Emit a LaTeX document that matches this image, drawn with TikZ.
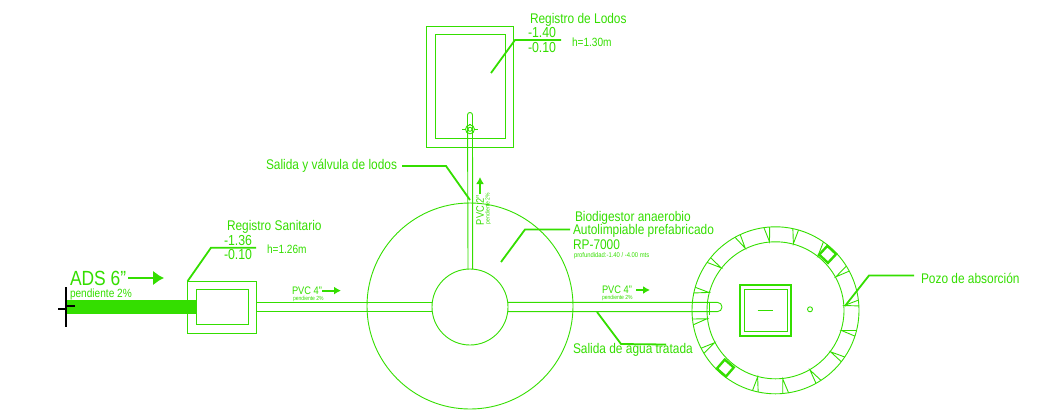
\documentclass[tikz,border=0pt]{standalone}
\usepackage{fontspec}
\setmainfont[FakeStretch=0.85]{Liberation Sans}
\usetikzlibrary{arrows.meta}
\definecolor{verde}{RGB}{52,222,0}
\begin{document}
\begin{tikzpicture}[x=1pt, y=-1pt, line width=0.9pt, color=verde,
	caja/.style={rectangle, draw, inner sep=0pt, outer sep=0pt},
	aro/.style={circle, draw, inner sep=0pt, outer sep=0pt},
	rotulo/.style={anchor=west, inner sep=0pt, outer sep=0pt, font=\fontsize{14}{14}\selectfont},
	medio/.style={anchor=west, inner sep=0pt, outer sep=0pt, font=\fontsize{11.9}{11.9}\selectfont},
	cota/.style={anchor=west, inner sep=0pt, outer sep=0pt, font=\fontsize{14.5}{14.5}\selectfont},
	chico/.style={anchor=west, inner sep=0pt, outer sep=0pt, font=\fontsize{5.9}{5.9}\selectfont},
	guia/.style={line width=1.8pt},
	flecha/.style={-{Latex[length=7pt,width=8pt]}, line width=1.8pt},
	tubo/.style={rounded corners=2.4pt}]
	\useasboundingbox (0,0) rectangle (1038,416);
	% tuberias
	\node[aro, minimum size=76pt] (tanque) at (470,307) {};
	\node[caja, minimum width=69.4pt, minimum height=52pt] (sanitario) at (222,307) {};
	\node[caja, minimum width=52pt, minimum height=35pt] (sanitarioint) at (222,307) {};
	\node[caja, minimum width=86.8pt, minimum height=121pt] (lodos) at (470,86.5) {};
	\node[caja, minimum width=70pt, minimum height=103.5pt] (lodosint) at (470,86.3) {};
	\coordinate (ads) at (67,307);
	\coordinate (tapon) at (722,302.4);
	\coordinate (tapon2) at (722,311.6);
	\coordinate (tope) at (467.5,112.5);
	\coordinate (tope2) at (472.5,112.5);
	\coordinate (valvula) at (470,129.3);
	\draw[tubo] (tanque.93.8) -- (tope) -- (tope2) -- (tanque.86.2);
	\draw (sanitario.east |- tanque.173) -- (tanque.173);
	\draw (sanitario.east |- tanque.187) -- (tanque.187);
	\draw[tubo, rounded corners=4.5pt] (tanque.7) -- (tapon) -- (tapon2) -- (tanque.-7);
	\draw[line width=14pt] (ads) -- (sanitarioint.west);
	\node[aro, minimum size=9pt] (valv) at (valvula) {};
	\node[aro, minimum size=4pt] (valvint) at (valvula) {};
	\draw[line width=1.2pt] (462,129.3) -- (valv.west) (valv.east) -- (478,129.3) (470,124) -- (valv.north);
	\node[aro, minimum size=206pt] (digestor) at (470,306) {};
	\draw[black, line width=1.1pt] (66,287) -- (66,327);
	\draw[black, line width=2.6pt] (58,309) -- (66,309) (66,306) -- (75,306);
	% pozo
	\begin{scope}[shift={(775.5,310.3)}, y=1pt]
		\node[aro, minimum size=137pt] (pozoint) at (0,0) {};
		\node[aro, minimum size=167pt] (pozoext) at (0,0) {};
		\foreach \a in {95,75,52,29,4,-17,-37,-60,-84,-105,-152,-173,165,142,116} {
			\draw (\a+3:83.5) -- (\a:69) -- (\a-1:83.5);
		}
		\node[caja, rotate=47, line width=2.4pt, minimum size=12pt] (cuadro1) at (47:76.5) {};
		\node[caja, rotate=49, line width=2.4pt, minimum size=12pt] (cuadro2) at (-131:76.5) {};
		\node[caja, line width=1.6pt, minimum size=51pt] (tapa) at (-10.3,0) {};
		\node[caja, minimum width=43pt, minimum height=41.5pt] (tapaint) at (-10,0) {};
		\draw[line width=1.2pt] (-18,0) -- (-3,0);
		\node[aro, minimum size=5pt] (orificio) at (34.5,1) {};
	\end{scope}
	\coordinate (collar) at (709,302.4);
	\coordinate (collar2) at (709,315);
	\draw (collar) -- (collar2);
	% guias
	\coordinate (g1a) at (491,73);
	\coordinate (g1b) at (515,40);
	\coordinate (g1c) at (561,40);
	\draw[guia] (g1a) -- (g1b) -- (g1c);
	\coordinate (g2a) at (402,166);
	\coordinate (g2b) at (446,166);
	\coordinate (g2c) at (470,200);
	\draw[guia] (g2a) -- (g2b) -- (g2c);
	\coordinate (g3a) at (501,262);
	\coordinate (g3b) at (525,229.5);
	\coordinate (g3c) at (570,229.5);
	\draw[guia] (g3a) -- (g3b) -- (g3c);
	\coordinate (g4a) at (187.7,281);
	\coordinate (g4b) at (211,247.7);
	\coordinate (g4c) at (256,247.7);
	\draw[guia] (g4a) -- (g4b) -- (g4c);
	\coordinate (g5a) at (597,312);
	\coordinate (g5b) at (621,344);
	\coordinate (g5c) at (666,344.5);
	\draw[guia] (g5a) -- (g5b) -- (g5c);
	\coordinate (g6a) at (845,306);
	\coordinate (g6b) at (869,275.5);
	\coordinate (g6c) at (914,275.5);
	\draw[guia] (g6a) -- (g6b) -- (g6c);
	% flechas
	\coordinate (f1a) at (128,278);
	\coordinate (f1b) at (164,278);
	\draw[line width=2.6pt, -{Latex[length=11pt,width=15pt]}] (f1a) -- (f1b);
	\coordinate (f2a) at (322,290.6);
	\coordinate (f2b) at (341,290.6);
	\draw[flecha] (f2a) -- (f2b);
	\coordinate (f3a) at (636,290);
	\coordinate (f3b) at (650,290);
	\draw[flecha] (f3a) -- (f3b);
	\coordinate (f4a) at (480,194);
	\coordinate (f4b) at (480,177);
	\draw[flecha] (f4a) -- (f4b);
	% textos
	\node[rotulo] (tlodos) at (530,20) {Registro de Lodos};
	\node[cota] (cota1) at (528,33) {-1.40};
	\node[cota] (cota2) at (528,48) {-0.10};
	\node[medio] (alto1) at (572,42) {h=1.30m};
	\node[rotulo] (tvalvula) at (266,166) {Salida y válvula de lodos};
	\node[rotulo] (tbio1) at (575,218) {Biodigestor anaerobio};
	\node[rotulo] (tbio2) at (573,231) {Autolimpiable prefabricado};
	\node[rotulo] (tbio3) at (573,244.5) {RP-7000};
	\node[chico, font=\fontsize{6.9}{6.9}\selectfont] (tbio4) at (574,255.5) {profundidad:-1.40 / -4.00 mts};
	\node[rotulo] (tsan) at (227,227) {Registro Sanitario};
	\node[cota] (cota3) at (224,241) {-1.36};
	\node[cota] (cota4) at (224,255) {-0.10};
	\node[medio] (alto2) at (267,249.5) {h=1.26m};
	\node[rotulo, font=\fontsize{20.5}{20.5}\selectfont] (tads) at (70,278) {ADS 6"};
	\node[medio] (tpend) at (70,294) {pendiente 2\%};
	\node[rotulo, font=\fontsize{10.9}{10.9}\selectfont] (tpvc1) at (292,291) {PVC 4"};
	\node[chico] (tpend1) at (293,299) {pendiente 2\%};
	\node[rotulo, font=\fontsize{10.9}{10.9}\selectfont] (tpvc2) at (602,290) {PVC 4"};
	\node[chico] (tpend2) at (602,298) {pendiente 2\%};
	\node[rotulo, font=\fontsize{10.9}{10.9}\selectfont, rotate=90] (tpvc3) at (480,225) {PVC 2"};
	\node[chico, rotate=90] (tpend3) at (488,224) {pendiente 2\%};
	\node[rotulo] (tagua) at (573,350) {Salida de agua tratada};
	\node[rotulo] (tpozo) at (921,278) {Pozo de absorción};
\end{tikzpicture}
\end{document}
